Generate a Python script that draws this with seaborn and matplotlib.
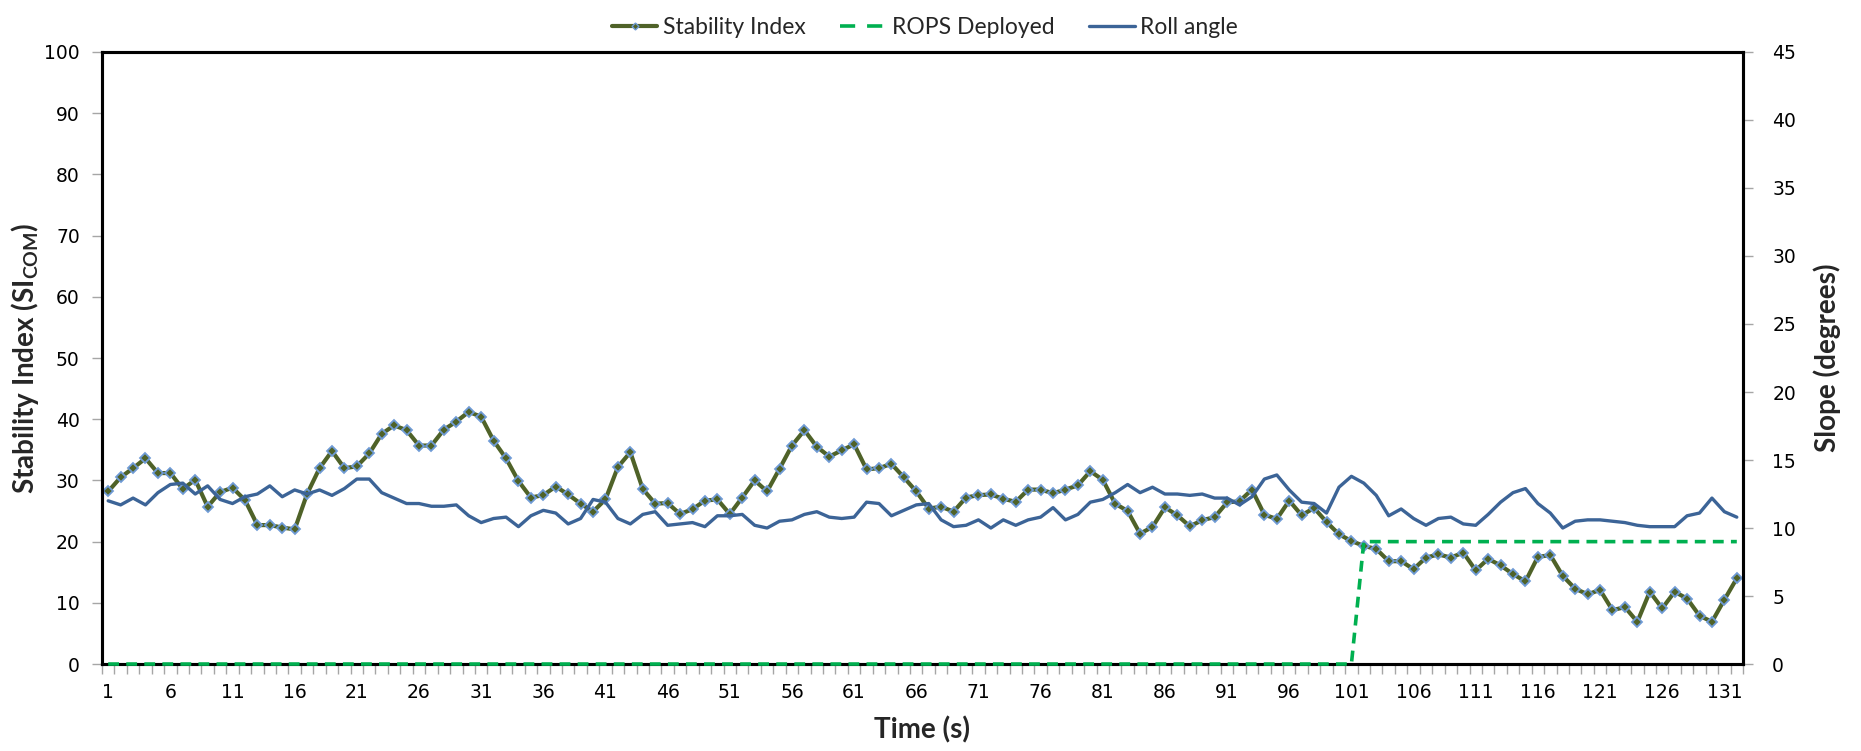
import numpy as np
import pandas as pd
import matplotlib
matplotlib.use("Agg")
import matplotlib.pyplot as plt
from matplotlib.lines import Line2D
import seaborn as sns

# ---------------- data ----------------
time_s = list(range(1, 133))
tick_labels = [str(v) for v in range(1, 132, 5)]

stability_index = [
    28.2, 30.5, 32.0, 33.6, 31.2, 31.2, 28.6, 30.1, 25.7, 28.1,
    28.8, 26.8, 22.7, 22.7, 22.3, 22.0, 27.8, 32.0, 34.8, 32.0,
    32.3, 34.4, 37.6, 39.0, 38.2, 35.7, 35.7, 38.3, 39.6, 41.2,
    40.4, 36.5, 33.6, 29.9, 27.2, 27.6, 29.0, 27.7, 26.2, 24.9,
    26.9, 32.2, 34.6, 28.6, 26.2, 26.3, 24.5, 25.3, 26.7, 26.9,
    24.5, 27.2, 30.0, 28.2, 31.9, 35.7, 38.2, 35.5, 33.9, 34.9,
    35.9, 31.8, 32.0, 32.7, 30.5, 28.2, 25.4, 25.7, 24.9, 27.2,
    27.6, 27.7, 27.0, 26.5, 28.5, 28.5, 27.9, 28.5, 29.2, 31.5,
    30.1, 26.2, 25.0, 21.3, 22.4, 25.6, 24.3, 22.5, 23.5, 24.0,
    26.4, 26.6, 28.5, 24.4, 23.7, 26.7, 24.3, 25.5, 23.2, 21.2,
    20.1, 19.3, 18.8, 16.8, 16.8, 15.5, 17.4, 17.9, 17.4, 18.2,
    15.3, 17.2, 16.1, 14.7, 13.5, 17.5, 17.8, 14.4, 12.3, 11.4,
    12.1, 8.8, 9.3, 6.9, 11.8, 9.1, 11.8, 10.7, 7.9, 6.9,
    10.5, 14.0,
]

roll_angle = [
    12.0, 11.7, 12.2, 11.7, 12.6, 13.2, 13.3, 12.5, 13.1, 12.1,
    11.8, 12.3, 12.5, 13.1, 12.3, 12.8, 12.5, 12.8, 12.4, 12.9,
    13.6, 13.6, 12.6, 12.2, 11.8, 11.8, 11.6, 11.6, 11.7, 10.9,
    10.4, 10.7, 10.8, 10.1, 10.9, 11.3, 11.1, 10.3, 10.7, 12.1,
    11.9, 10.7, 10.3, 11.0, 11.2, 10.2, 10.3, 10.4, 10.1, 10.9,
    10.9, 11.0, 10.2, 10.0, 10.5, 10.6, 11.0, 11.2, 10.8, 10.7,
    10.8, 11.9, 11.8, 10.9, 11.3, 11.7, 11.8, 10.6, 10.1, 10.2,
    10.6, 10.0, 10.6, 10.2, 10.6, 10.8, 11.5, 10.6, 11.0, 11.9,
    12.1, 12.6, 13.2, 12.6, 13.0, 12.5, 12.5, 12.4, 12.5, 12.2,
    12.2, 11.7, 12.3, 13.6, 13.9, 12.8, 11.9, 11.8, 11.1, 13.0,
    13.8, 13.3, 12.4, 10.9, 11.4, 10.7, 10.2, 10.7, 10.8, 10.3,
    10.2, 11.0, 11.9, 12.6, 12.9, 11.8, 11.1, 10.0, 10.5, 10.6,
    10.6, 10.5, 10.4, 10.2, 10.1, 10.1, 10.1, 10.9, 11.1, 12.2,
    11.2, 10.8,
]

rops_deployed = [
    0, 0, 0, 0, 0, 0, 0, 0, 0, 0, 0, 0, 0, 0, 0, 0, 0, 0, 0, 0,
    0, 0, 0, 0, 0, 0, 0, 0, 0, 0, 0, 0, 0, 0, 0, 0, 0, 0, 0, 0,
    0, 0, 0, 0, 0, 0, 0, 0, 0, 0, 0, 0, 0, 0, 0, 0, 0, 0, 0, 0,
    0, 0, 0, 0, 0, 0, 0, 0, 0, 0, 0, 0, 0, 0, 0, 0, 0, 0, 0, 0,
    0, 0, 0, 0, 0, 0, 0, 0, 0, 0, 0, 0, 0, 0, 0, 0, 0, 0, 0, 0,
    0, 9, 9, 9, 9, 9, 9, 9, 9, 9, 9, 9, 9, 9, 9, 9, 9, 9, 9, 9,
    9, 9, 9, 9, 9, 9, 9, 9, 9, 9, 9, 9,
]

left_ticks = [0, 10, 20, 30, 40, 50, 60, 70, 80, 90, 100]
right_ticks = [0, 5, 10, 15, 20, 25, 30, 35, 40, 45]

# ---------------- style ----------------
sns.set_theme(style="white")
plt.rcParams["font.family"] = ["DejaVu Sans"]
plt.rcParams["mathtext.fontset"] = "custom"
plt.rcParams["mathtext.rm"] = "Lato:bold"
plt.rcParams["mathtext.it"] = "Lato:bold:italic"
plt.rcParams["mathtext.bf"] = "Lato:bold"

C_SI = "#4F6228"
C_SI_EDGE = "#6F9BD6"
C_ROPS = "#00B050"
C_ROLL = "#3C6497"

df = pd.DataFrame({
    "pos": np.arange(len(time_s)),
    "si": stability_index,
    "roll": roll_angle,
    "rops": rops_deployed,
})

fig = plt.figure(figsize=(18.61, 7.51), dpi=100)
ax = fig.add_axes([0.0548, 0.1158, 0.8818, 0.815])

sns.lineplot(data=df, x="pos", y="si", ax=ax, color=C_SI, lw=3.0,
             marker="D", markersize=5.5, markerfacecolor=C_SI,
             markeredgecolor=C_SI_EDGE, markeredgewidth=1.3, legend=False)

ax2 = ax.twinx()
sns.lineplot(data=df, x="pos", y="roll", ax=ax2, color=C_ROLL, lw=2.4,
             legend=False)
sns.lineplot(data=df, x="pos", y="rops", ax=ax2, color=C_ROPS, lw=2.6,
             legend=False)
rops_line = ax2.lines[-1]
rops_line.set_dashes([3.0, 2.0])
rops_line.set_clip_on(False)
rops_line.set_zorder(5)

# axes limits / ticks
ax.set_xlim(-0.5, len(time_s) - 0.5)
ax.set_ylim(0, 100)
ax2.set_ylim(0, 45)

ax.set_xticks(np.arange(0, len(time_s), 5))
ax.set_xticklabels(tick_labels)
ax.set_xticks(np.arange(-0.5, len(time_s), 1), minor=True)
ax.tick_params(axis="x", which="major", length=0, pad=14, labelsize=13.5,
               colors="black")
ax.tick_params(axis="x", which="minor", length=7, width=1.0,
               color="#A6A6A6", direction="out", bottom=True)

ax.set_yticks(left_ticks)
ax.tick_params(axis="y", which="major", length=7, width=1.0,
               color="#A6A6A6", labelcolor="black", labelsize=13.5,
               direction="out", left=True, pad=9)
ax2.set_yticks(right_ticks)
ax2.tick_params(axis="y", which="major", length=7, width=1.0,
                color="#A6A6A6", labelcolor="black", labelsize=13.5,
                direction="out", right=True, pad=14)

for a in (ax, ax2):
    for s in a.spines.values():
        s.set_color("black")
        s.set_linewidth(2.2)
ax.grid(False)
ax2.grid(False)

LABEL_FS = 20
ax.set_xlabel("Time (s)", fontsize=LABEL_FS, fontweight="bold",
              family="Lato", labelpad=10)
ax.set_ylabel(r"Stability Index (SI$_{\mathrm{COM}}$)", fontsize=LABEL_FS,
              fontweight="bold", family="Lato")
ax.yaxis.set_label_coords(-0.0372, 0.5)
ax2.set_ylabel("Slope (degrees)", fontsize=LABEL_FS, fontweight="bold",
               family="Lato")
ax2.yaxis.set_label_coords(1.0427, 0.5)

handles = [
    Line2D([], [], color=C_SI, lw=3.0, marker="D", markersize=3.5,
           markerfacecolor=C_SI, markeredgecolor=C_SI_EDGE),
    Line2D([], [], color=C_ROPS, lw=2.6, dashes=[4.2, 3.3]),
    Line2D([], [], color=C_ROLL, lw=2.4),
]
fig.legend(handles, ["Stability Index", "ROPS Deployed", "Roll angle"],
           loc="upper center", bbox_to_anchor=(0.497, 1.005), ncol=3,
           frameon=False, prop={"family": "Lato", "size": 16.5},
           handlelength=2.0, handletextpad=0.25, columnspacing=1.5)

fig.savefig("out.png", dpi=100)
